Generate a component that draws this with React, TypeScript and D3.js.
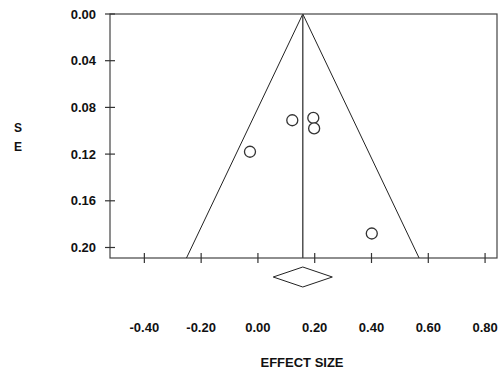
import { useRef, useEffect } from "react";
import * as d3 from "d3";

// study-level effects and standard errors
const effectSizes = [0.121, 0.195, 0.198, -0.028, 0.401];
const standardErrors = [0.091, 0.089, 0.098, 0.118, 0.188];

// pooled estimate and 95% CI
const pooledEffect = 0.158;
const pooledCI = [0.054, 0.262];

const xTicks = [-0.4, -0.2, 0, 0.2, 0.4, 0.6, 0.8];
const yTicks = [0, 0.04, 0.08, 0.12, 0.16, 0.2];
const seMax = 0.209;

const fmt = (d: number) => d.toFixed(2);

export default function App() {
  const svgRef = useRef<SVGSVGElement>(null);

  useEffect(() => {
    if (!svgRef.current) return;
    const svg = d3.select(svgRef.current);
    svg.selectAll("*").remove();

    const width = 503;
    const height = 372;
    const left = 110;
    const right = 497;
    const top = 14;
    const bottom = 258;
    const font = "'Liberation Sans', Arial, sans-serif";
    const ink = "#333";

    const x = d3.scaleLinear().domain([-0.521, 0.842]).range([left, right]);
    const y = d3.scaleLinear().domain([0, seMax]).range([top, bottom]);

    svg.attr("viewBox", `0 0 ${width} ${height}`);

    svg
      .append("rect")
      .attr("width", width)
      .attr("height", height)
      .attr("fill", "#fff");

    // Frame
    svg
      .append("rect")
      .attr("x", left)
      .attr("y", top)
      .attr("width", right - left)
      .attr("height", bottom - top)
      .attr("fill", "none")
      .attr("stroke", "#444")
      .attr("stroke-width", 1.2);

    // Y ticks + labels
    const yg = svg.append("g");
    yg.selectAll("line")
      .data(yTicks)
      .join("line")
      .attr("x1", left - 5)
      .attr("x2", left + 5)
      .attr("y1", (d) => y(d))
      .attr("y2", (d) => y(d))
      .attr("stroke", ink)
      .attr("stroke-width", 1.2);
    yg.selectAll("text")
      .data(yTicks)
      .join("text")
      .attr("x", 96)
      .attr("y", (d) => y(d))
      .attr("dy", "0.36em")
      .attr("text-anchor", "end")
      .attr("font-family", font)
      .attr("font-weight", "bold")
      .attr("font-size", "13px")
      .attr("fill", "#111")
      .text((d) => fmt(d));

    // X ticks + labels
    const xg = svg.append("g");
    xg.selectAll("line")
      .data(xTicks)
      .join("line")
      .attr("x1", (d) => x(d))
      .attr("x2", (d) => x(d))
      .attr("y1", bottom - 5)
      .attr("y2", bottom + 5)
      .attr("stroke", ink)
      .attr("stroke-width", 1.2);
    xg.selectAll("text")
      .data(xTicks)
      .join("text")
      .attr("x", (d) => x(d))
      .attr("y", 327)
      .attr("dy", "0.36em")
      .attr("text-anchor", "middle")
      .attr("font-family", font)
      .attr("font-weight", "bold")
      .attr("font-size", "13px")
      .attr("fill", "#111")
      .text((d) => fmt(d));

    // Funnel
    const z = 1.96;
    const funnel = d3.line<[number, number]>()
      .x((d) => x(d[0]))
      .y((d) => y(d[1]));
    svg
      .append("path")
      .attr(
        "d",
        funnel([
          [pooledEffect - z * seMax, seMax],
          [pooledEffect, 0],
          [pooledEffect + z * seMax, seMax],
        ])
      )
      .attr("fill", "none")
      .attr("stroke", "#222")
      .attr("stroke-width", 1);

    // Pooled vertical line
    svg
      .append("line")
      .attr("x1", x(pooledEffect))
      .attr("x2", x(pooledEffect))
      .attr("y1", y(0))
      .attr("y2", y(seMax))
      .attr("stroke", "#444")
      .attr("stroke-width", 1.4);

    // Studies
    svg
      .append("g")
      .selectAll("circle")
      .data(effectSizes)
      .join("circle")
      .attr("cx", (d) => x(d))
      .attr("cy", (_, i) => y(standardErrors[i]))
      .attr("r", 5.5)
      .attr("fill", "#fff")
      .attr("stroke", ink)
      .attr("stroke-width", 1.3);

    // Diamond
    const dy = 277;
    const dh = 10;
    svg
      .append("path")
      .attr(
        "d",
        `M${x(pooledCI[0])},${dy}L${x(pooledEffect)},${dy - dh}L${x(pooledCI[1])},${dy}L${x(pooledEffect)},${dy + dh}Z`
      )
      .attr("fill", "none")
      .attr("stroke", "#222")
      .attr("stroke-width", 1);

    // Axis titles
    svg
      .append("text")
      .attr("x", 302)
      .attr("y", 362)
      .attr("dy", "0.36em")
      .attr("text-anchor", "middle")
      .attr("font-family", font)
      .attr("font-weight", "bold")
      .attr("font-size", "13px")
      .attr("fill", "#111")
      .text("EFFECT SIZE");

    const se = svg
      .append("text")
      .attr("text-anchor", "middle")
      .attr("font-family", font)
      .attr("font-weight", "bold")
      .attr("font-size", "12px")
      .attr("fill", "#111");
    se.append("tspan").attr("x", 18).attr("y", 132).text("S");
    se.append("tspan").attr("x", 18).attr("y", 151).text("E");
  }, []);

  return (
    <div style={{ position: "fixed", left: 0, top: 0 }}>
      <svg ref={svgRef} width={503} height={372} style={{ display: "block" }} />
    </div>
  );
}
